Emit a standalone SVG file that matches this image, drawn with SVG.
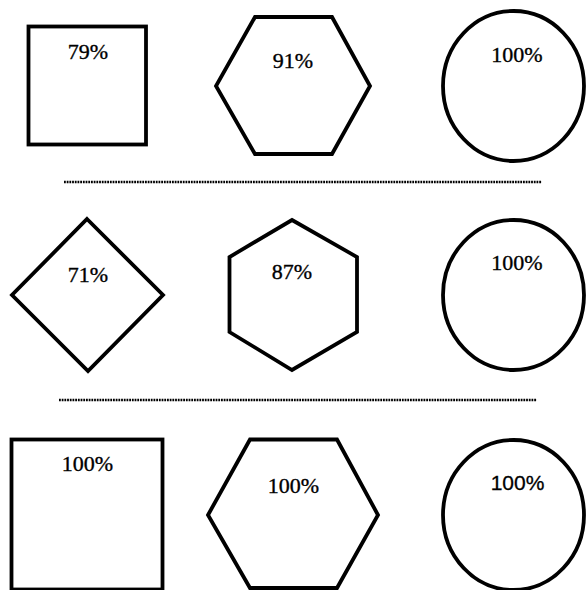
<svg xmlns="http://www.w3.org/2000/svg" width="586" height="590" viewBox="0 0 586 590">
<style>
.s{fill:none;stroke:#000;stroke-width:3.8;stroke-linejoin:miter}
.t{font-family:"Liberation Serif","Times New Roman",serif;font-size:22px;fill:#000;stroke:#000;stroke-width:0.35;text-anchor:middle}
.ts{font-family:"Liberation Sans",Arial,sans-serif;font-size:21px;fill:#000;stroke:#000;stroke-width:0.3;text-anchor:middle}
.d{stroke:#000;stroke-width:2.6;stroke-dasharray:1.8 0.9;fill:none}
</style>
<rect width="586" height="590" fill="#fff"/>
<g id="sep">
<line class="d" x1="64" y1="182" x2="542" y2="182"/>
<line class="d" x1="59" y1="400" x2="537" y2="400"/>
</g>
<g id="square1"><rect class="s" x="28.5" y="26.5" width="117.5" height="118"/><text class="t" x="88" y="59">79%</text></g>
<g id="hex1"><polygon class="s" points="255,17 332,17 370,86 332,154 255,154 216,86"/><text class="t" x="293" y="68">91%</text></g>
<g id="circle1"><ellipse class="s" cx="513.5" cy="86" rx="70.5" ry="75"/><text class="t" x="517" y="62">100%</text></g>
<g id="diamond2"><polygon class="s" points="87,219 163,295 88,371 12,295"/><text class="t" x="88" y="282">71%</text></g>
<g id="hex2"><polygon class="s" points="292,220 357,257 357,332 292,370 229.5,332 229.5,257"/><text class="t" x="292" y="279">87%</text></g>
<g id="circle2"><ellipse class="s" cx="513.5" cy="295" rx="70.5" ry="75"/><text class="t" x="517" y="270">100%</text></g>
<g id="square3"><rect class="s" x="11.5" y="439.5" width="151" height="150"/><text class="t" x="87.5" y="471">100%</text></g>
<g id="hex3"><polygon class="s" points="250,439.5 337,439.5 378,515 337,588 250,588 208,515"/><text class="t" x="293.5" y="493">100%</text></g>
<g id="circle3"><ellipse class="s" cx="513.5" cy="515" rx="70.5" ry="75"/><text class="ts" x="517.5" y="490">100%</text></g>
</svg>
